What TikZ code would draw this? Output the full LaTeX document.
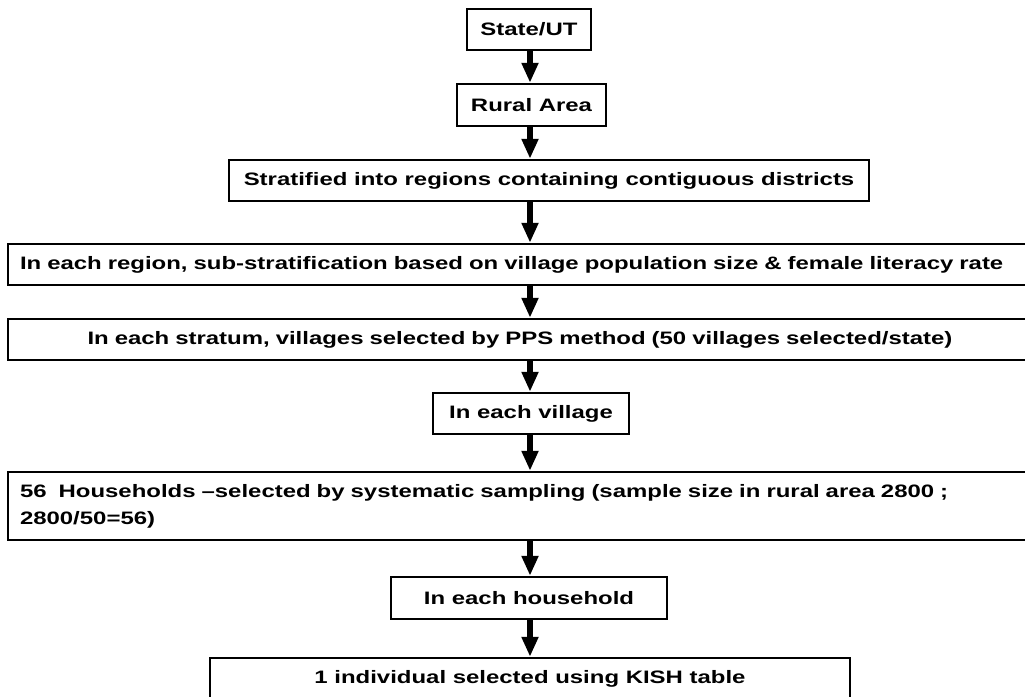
\documentclass[tikz,border=0pt]{standalone}
\usepackage{fontspec}
\setmainfont[FakeStretch=1.33]{Liberation Sans}
\usetikzlibrary{arrows.meta}
\begin{document}
\begin{tikzpicture}[x=1pt,y=-1pt,
  box/.style={draw=black,line width=2.5pt,inner sep=0pt,align=center,
    font=\fontsize{18}{27}\selectfont\bfseries},
  widebox/.style={box,inner xsep=12pt,inner ysep=0pt,text width=1000pt},
  arr/.style={line width=6.5pt,-{Triangle[width=16pt,length=20pt]}}]
\useasboundingbox (0,0) rectangle (1025,696);
\clip (0,0) rectangle (1025,696);
\fill[white] (0,0) rectangle (1025,696);
\coordinate (axis) at (530,0);
\node[box,minimum width=124pt,minimum height=41pt] (s1) at (529,29.5) {State/UT};
\node[box,minimum width=149pt,minimum height=42pt] (s2) at (531.5,105) {Rural Area};
\node[box,minimum width=640pt,minimum height=41pt] (s3) at (549,180.5) {Stratified into regions containing contiguous districts};
\node[widebox,align=left,minimum height=41pt] (s4) at (520,264.5) {In each region, sub-stratification based on village population size \& female literacy rate};
\node[widebox,align=center,minimum height=41pt] (s5) at (520,339.5) {In each stratum, villages selected by PPS method (50 villages selected/state)};
\node[box,minimum width=196pt,minimum height=41pt] (s6) at (531,413.5) {In each village};
\node[widebox,align=left,minimum height=68pt] (s7) at (520,506) {56\ \ Households –selected by systematic sampling (sample size in rural area 2800 ;\\2800/50=56)};
\node[box,minimum width=276pt,minimum height=42pt] (s8) at (529,598) {In each household};
\node[box,minimum width=640pt,minimum height=41pt] (s9) at (530,678.5) {1 individual selected using KISH table};
\foreach \a/\b in {s1/s2,s2/s3,s3/s4,s4/s5,s5/s6,s6/s7,s7/s8,s8/s9}
  \draw[arr] (\a.south -| axis) -- (\b.north -| axis);
\end{tikzpicture}
\end{document}
